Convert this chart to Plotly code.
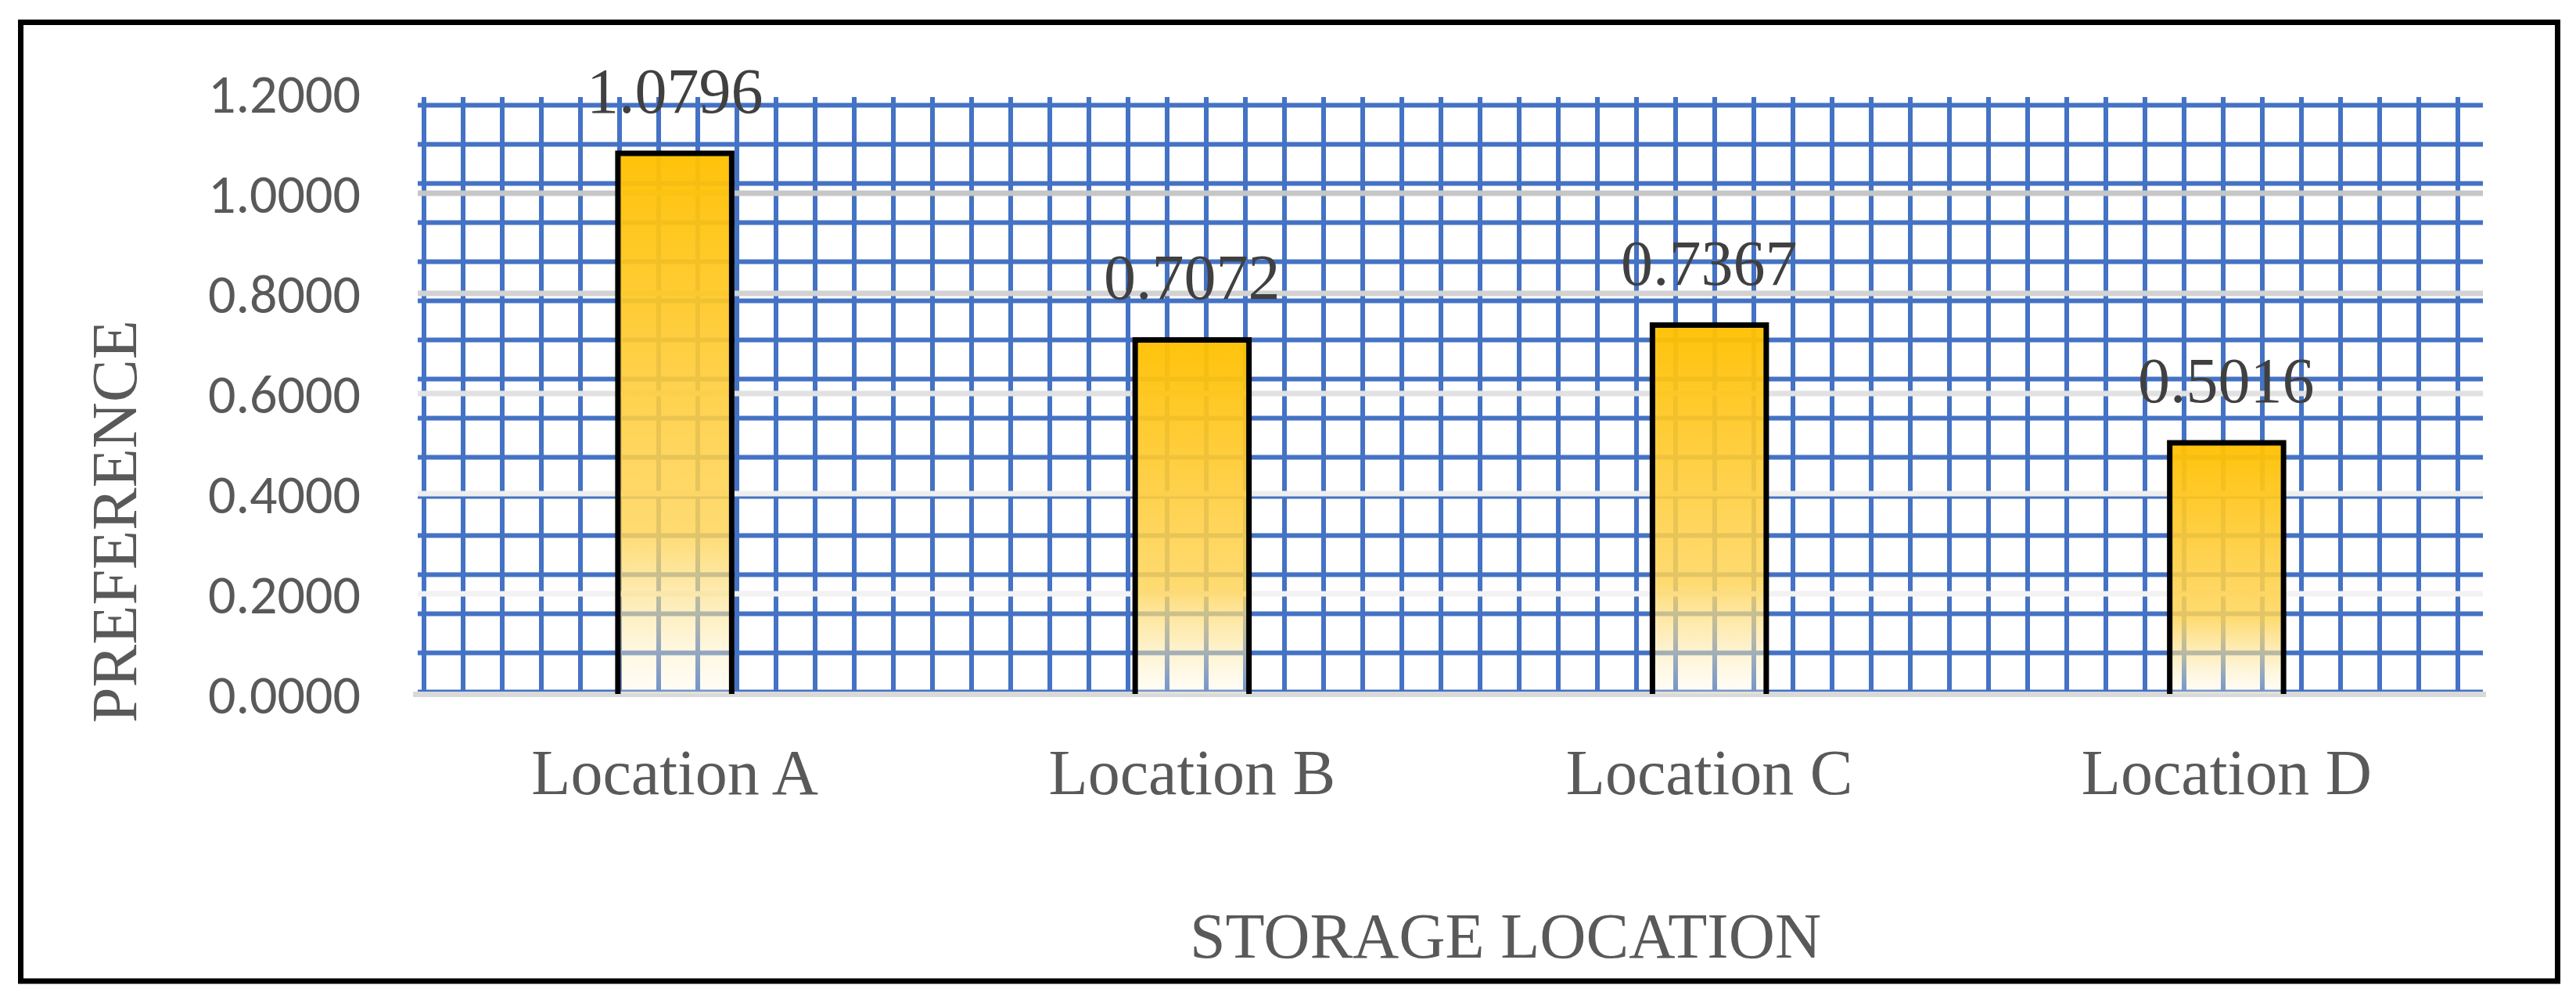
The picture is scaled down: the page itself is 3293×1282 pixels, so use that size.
import plotly.graph_objects as go

# values
locations = ["Location A", "Location B", "Location C", "Location D"]
preference = [1.0796, 0.7072, 0.7367, 0.5016]
y_ticks = [0.0, 0.2, 0.4, 0.6, 0.8, 1.0, 1.2]

# the page body adds an 8px margin, so the figure is drawn 8px smaller
OFF = 8
W, H = 3293 - 2 * OFF, 1282 - 2 * OFF
L, T = 532 - OFF, 119 - OFF
R, B = 3293 - 3177 - OFF, 1282 - 887 - OFF
PW, PH = W - L - R, H - T - B
Y0_PX = 887  # reference pixel row of y = 0

def px_x(p):
    # reference pixel column -> paper fraction
    return (p - 532) / PW

def px_y(p):
    # reference pixel row -> paper fraction
    return (Y0_PX - p) / PH

fig = go.Figure()

half_w = 0.11
bar_scale = [
    [0.0, "rgba(255,246,220,0.25)"],
    [0.15, "rgba(253,228,150,0.6)"],
    [0.3, "rgba(254,212,88,0.85)"],
    [0.55, "rgba(255,205,60,0.9)"],
    [1.0, "rgba(255,192,0,0.96)"],
]
for i, v in enumerate(preference):
    fig.add_trace(go.Scatter(
        x=[i - half_w, i - half_w, i + half_w, i + half_w],
        y=[0, v, v, 0],
        mode="lines",
        fill="toself",
        fillgradient=dict(type="vertical", colorscale=bar_scale, start=0, stop=v),
        line=dict(color="black", width=7),
        showlegend=False,
        hoverinfo="skip",
    ))

shapes = []
# blue grid pattern fill of the plot area
for k in range(16):
    yy = px_y(134.5 + 50 * k)
    shapes.append(dict(type="line", xref="paper", yref="paper",
                       x0=px_x(534), x1=px_x(3174), y0=yy, y1=yy,
                       line=dict(color="#4472C4", width=6), layer="below"))
for k in range(53):
    xx = px_x(542 + 50 * k)
    shapes.append(dict(type="line", xref="paper", yref="paper",
                       x0=xx, x1=xx, y0=0, y1=px_y(124),
                       line=dict(color="#4472C4", width=6), layer="below"))
# gradient coloured major gridlines
grid_cols = {0.2: "#F2F2F2", 0.4: "#EEEEEE", 0.6: "#E1E1E1", 0.8: "#D2D2D2", 1.0: "#C6C6C6"}
for yv, c in grid_cols.items():
    shapes.append(dict(type="line", xref="paper", yref="y",
                       x0=px_x(534), x1=px_x(3174), y0=yv, y1=yv,
                       line=dict(color=c, width=7), layer="below"))
# category axis line
shapes.append(dict(type="line", xref="paper", yref="paper",
                   x0=px_x(528), x1=px_x(3178), y0=px_y(887.5), y1=px_y(887.5),
                   line=dict(color="#D9D9D9", width=7), layer="below"))
# chart border
shapes.append(dict(type="rect", xref="paper", yref="paper",
                   x0=px_x(26.5), x1=px_x(3269.5), y0=px_y(1254), y1=px_y(28.5),
                   line=dict(color="black", width=7), fillcolor="rgba(0,0,0,0)",
                   layer="above"))

annotations = []
for i, v in enumerate(preference):
    annotations.append(dict(x=i, y=v, xref="x", yref="y", text=f"{v:.4f}",
                            showarrow=False, yanchor="bottom", yshift=32,
                            font=dict(family="Liberation Serif, Times New Roman, serif",
                                      size=82, color="#404040")))
annotations.append(dict(x=px_x(146), y=px_y(667), xref="paper", yref="paper",
                        text="PREFERENCE", textangle=-90, showarrow=False,
                        xanchor="center", yanchor="middle",
                        font=dict(family="Liberation Serif, Times New Roman, serif",
                                  size=82, color="#595959")))
annotations.append(dict(x=px_x(1924), y=px_y(1196), xref="paper", yref="paper",
                        text="STORAGE LOCATION", showarrow=False,
                        xanchor="center", yanchor="middle",
                        font=dict(family="Liberation Serif, Times New Roman, serif",
                                  size=82, color="#595959")))

fig.update_layout(
    width=W, height=H,
    margin=dict(l=L, r=R, t=T, b=B),
    paper_bgcolor="white",
    plot_bgcolor="white",
    shapes=shapes,
    annotations=annotations,
    xaxis=dict(range=[-0.5, 3.5], tickvals=list(range(len(locations))),
               ticktext=locations, showgrid=False, zeroline=False, showline=False,
               ticks="", ticklabelstandoff=45,
               tickfont=dict(family="Liberation Serif, Times New Roman, serif",
                             size=82, color="#595959")),
    yaxis=dict(range=[0, 1.2], tickvals=y_ticks, tickformat=".4f",
               showgrid=False, zeroline=False, showline=False,
               ticks="", ticklabelstandoff=70,
               tickfont=dict(family="Carlito, Lato, sans-serif", size=70, color="#595959")),
)

fig.write_html("out.html")
